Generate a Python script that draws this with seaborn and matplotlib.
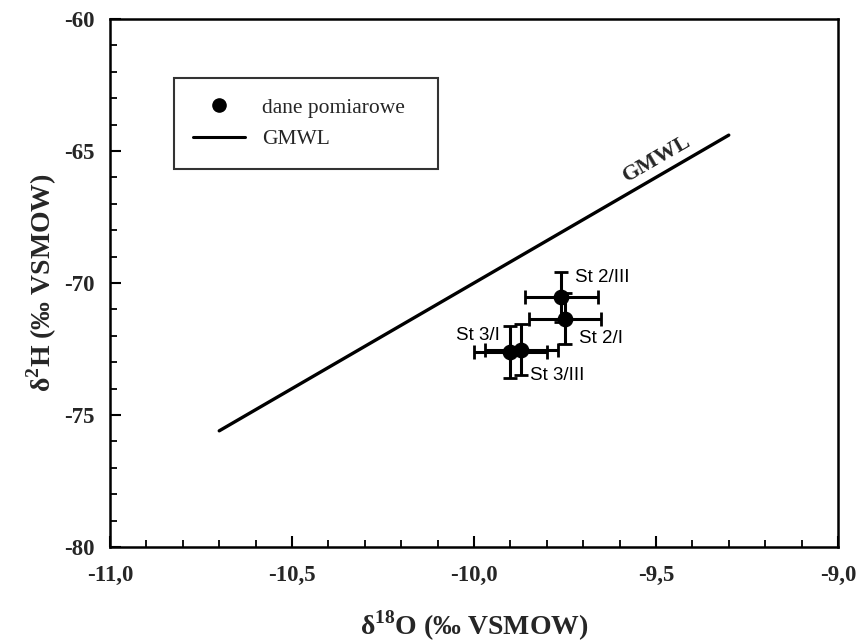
import matplotlib
matplotlib.use("Agg")
import matplotlib.pyplot as plt
from matplotlib.ticker import MultipleLocator, FuncFormatter
import seaborn as sns
import pandas as pd
import numpy as np

# data
stations = ["St 2/III", "St 2/I", "St 3/I", "St 3/III"]
d18O = [-9.76, -9.75, -9.90, -9.87]
d2H = [-70.52, -71.35, -72.62, -72.52]
d18O_err = [0.10, 0.10, 0.10, 0.10]
d2H_err = [0.95, 0.97, 0.98, 0.98]
label_x = [-9.722, -9.711, -9.929, -9.846]
label_y = [-69.81, -72.12, -71.99, -73.50]
label_ha = ["left", "left", "right", "left"]

gmwl_x = [-10.7, -9.3]
gmwl_y = [8 * v + 10 for v in gmwl_x]

sns.set_style("white")
plt.rcParams['font.family'] = ['Liberation Serif', 'DejaVu Serif']
plt.rcParams['mathtext.fontset'] = 'custom'
plt.rcParams['mathtext.rm'] = 'Liberation Serif:bold'
plt.rcParams['mathtext.bf'] = 'Liberation Serif:bold'

fig = plt.figure(figsize=(8.63, 6.43), dpi=100)
ax = fig.add_axes([0.1275, 0.1493, 0.8435, 0.8212])

df = pd.DataFrame({"x": d18O, "y": d2H, "st": stations})
line_df = pd.DataFrame({"x": gmwl_x, "y": gmwl_y})

sns.lineplot(data=line_df, x="x", y="y", color="black", lw=2.4, ax=ax,
             legend=False)
ax.errorbar(d18O, d2H, xerr=d18O_err, yerr=d2H_err, fmt="none",
            ecolor="black", elinewidth=2.2, capsize=5, capthick=2.0, zorder=3)
sns.scatterplot(data=df, x="x", y="y", color="black", s=110, edgecolor="black",
                ax=ax, zorder=4, legend=False)

for name, lx, ly, ha in zip(stations, label_x, label_y, label_ha):
    ax.text(lx, ly, name, ha=ha, va="center", fontsize=13.5,
            family=["Liberation Sans"], color="black")

ax.text(-9.498, -65.28, "GMWL", rotation=30, ha="center", va="center",
        fontsize=16, fontweight="bold", rotation_mode="anchor")

ax.set_xlim(-11, -9)
ax.set_ylim(-80, -60)
ax.xaxis.set_major_locator(MultipleLocator(0.5))
ax.xaxis.set_minor_locator(MultipleLocator(0.1))
ax.yaxis.set_major_locator(MultipleLocator(5))
ax.yaxis.set_minor_locator(MultipleLocator(1))
ax.xaxis.set_major_formatter(FuncFormatter(lambda v, p: f"{v:.1f}".replace(".", ",")))
ax.yaxis.set_major_formatter(FuncFormatter(lambda v, p: f"{v:.0f}"))
ax.tick_params(which="both", direction="in", color="black", bottom=True, left=True,
               top=False, right=False)
ax.tick_params(axis="x", which="major", length=8, width=1.5, labelsize=16.5, pad=13)
ax.tick_params(axis="y", which="major", length=8, width=1.5, labelsize=16.5, pad=11)
ax.tick_params(which="minor", length=5, width=1.3)
for lab in ax.get_xticklabels() + ax.get_yticklabels():
    lab.set_fontweight("bold")
for sp in ax.spines.values():
    sp.set_color("black")
    sp.set_linewidth(1.8)

ax.set_xlabel(r"δ$^{\mathbf{18}}$O (‰ VSMOW)", fontsize=20, fontweight="bold", labelpad=16)
ax.set_ylabel(r"δ$^{\mathbf{2}}$H (‰ VSMOW)", fontsize=20, fontweight="bold", labelpad=4)

handles = [
    plt.Line2D([], [], marker="o", color="black", linestyle="none", markersize=9.5),
    plt.Line2D([], [], color="black", lw=2.2),
]
leg = ax.legend(handles, ["dane pomiarowe", "GMWL"], loc="upper left",
                bbox_to_anchor=(0.088, 0.72, 0.363, 0.168), mode="expand",
                fontsize=15.5, frameon=True,
                fancybox=False, edgecolor="black", borderpad=0.9,
                handlelength=2.4, handletextpad=0.8, labelspacing=0.55,
                borderaxespad=0)
leg.get_frame().set_linewidth(1.5)

fig.savefig("out.png", dpi=100)
